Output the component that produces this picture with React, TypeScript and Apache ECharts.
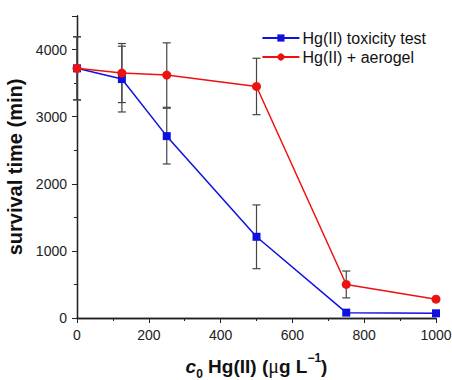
import React, { useEffect, useRef } from "react";
import * as echarts from "echarts";

const concentrations = [0, 125, 250, 500, 750, 1000];
const toxicityValues = [3720, 3560, 2710, 1210, 80, 70];
const toxicityErrors = [470, 490, 415, 475, 0, 0];
const aerogelValues = [3720, 3650, 3620, 3450, 500, 280];
const aerogelErrors = [470, 440, 480, 420, 200, 0];

const seriesNames = ["Hg(II) toxicity test", "Hg(II) + aerogel"];

const FONT = "Liberation Sans, Arial, sans-serif";
const SERIF = "Liberation Serif, Times New Roman, serif";

function pairs(vals: number[]) {
  return concentrations.map((c, i) => [c, vals[i]]);
}
function errs(vals: number[], e: number[]) {
  return concentrations
    .map((c, i) => [c, vals[i] - e[i], vals[i] + e[i]])
    .filter((d, i) => e[i] > 0);
}

function errorRender(params: any, api: any) {
  const x = api.value(0);
  const lo = api.coord([x, api.value(1)]);
  const hi = api.coord([x, api.value(2)]);
  const w = 4;
  const style = { stroke: "#444", lineWidth: 1.2 };
  return {
    type: "group",
    children: [
      { type: "line", shape: { x1: lo[0], y1: lo[1], x2: hi[0], y2: hi[1] }, style },
      { type: "line", shape: { x1: lo[0] - w, y1: lo[1], x2: lo[0] + w, y2: lo[1] }, style },
      { type: "line", shape: { x1: hi[0] - w, y1: hi[1], x2: hi[0] + w, y2: hi[1] }, style },
    ],
  };
}

export default function App() {
  const ref = useRef<HTMLDivElement>(null);
  useEffect(() => {
    if (!ref.current) return;
    const chart = echarts.init(ref.current, undefined, { renderer: "svg" });
    const axisLine = { show: true, lineStyle: { color: "#222", width: 1.3 } };
    const big = { fontFamily: FONT, fontSize: 19, fontWeight: "bold", color: "#111", verticalAlign: "bottom", lineHeight: 24 };
    chart.setOption({
      animation: false,
      grid: { left: 77, right: 16, top: 16, bottom: 62, containLabel: false, outerBoundsMode: "none" },
      legend: {
        data: seriesNames,
        orient: "vertical",
        right: 21,
        top: 25,
        itemWidth: 37,
        itemHeight: 9,
        itemGap: 3,
        textStyle: { fontFamily: FONT, fontSize: 16, color: "#111", padding: [0, 0, 0, -2] },
      },
      xAxis: [
        {
          type: "value",
          min: 0,
          max: 1000,
          interval: 200,
          axisLine,
          axisTick: { show: true, inside: false, length: 5, lineStyle: { color: "#222" } },
          minorTick: { show: true, splitNumber: 2, length: 3, lineStyle: { color: "#222" } },
          splitLine: { show: false },
          axisLabel: { fontFamily: FONT, fontSize: 14, color: "#222", margin: 10, formatter: (v: number) => String(v) },
          name: "{i|c}{sub|0}{b| Hg(II) (}{mu|μ}{b|g L}{sup|−1}{b|)}",
          nameLocation: "middle",
          nameGap: 34,
          nameTextStyle: {
            rich: {
              i: { ...big, fontStyle: "italic" },
              sub: { fontFamily: FONT, fontSize: 12, fontWeight: "bold", color: "#111", verticalAlign: "bottom", lineHeight: 18, padding: [0, 0, -4, 0] },
              b: big,
              mu: { ...big, fontFamily: SERIF, fontWeight: "normal", fontSize: 20 },
              sup: { fontFamily: FONT, fontSize: 12, fontWeight: "bold", color: "#111", verticalAlign: "top", lineHeight: 18, padding: [0, 0, 7, 0] },
            },
          },
        },
        {
          type: "value",
          position: "top",
          min: 0,
          max: 1000,
          interval: 200,
          axisLine,
          axisTick: { show: true, inside: true, length: 5, lineStyle: { color: "#222" } },
          minorTick: { show: true, splitNumber: 2, length: 3, lineStyle: { color: "#222" } },
          splitLine: { show: false },
          axisLabel: { show: false },
        },
      ],
      yAxis: [
        {
          type: "value",
          min: 0,
          max: 4500,
          interval: 1000,
          axisLine,
          axisTick: { show: true, inside: false, length: 5, lineStyle: { color: "#222" } },
          minorTick: { show: true, splitNumber: 2, length: 3, lineStyle: { color: "#222" } },
          splitLine: { show: false },
          axisLabel: {
            fontFamily: FONT,
            fontSize: 14,
            color: "#222",
            margin: 10,
            showMaxLabel: false,
            formatter: (v: number) => (v > 4000 ? "" : String(v)),
          },
          name: "survival time (min)",
          nameLocation: "middle",
          nameGap: 46,
          nameTextStyle: { fontFamily: FONT, fontSize: 20, fontWeight: "bold", color: "#111" },
        },
        {
          type: "value",
          position: "right",
          min: 0,
          max: 4500,
          interval: 1000,
          axisLine,
          axisTick: { show: true, inside: true, length: 5, lineStyle: { color: "#222" } },
          minorTick: { show: true, splitNumber: 2, length: 3, lineStyle: { color: "#222" } },
          splitLine: { show: false },
          axisLabel: { show: false },
        },
      ],
      series: [
        {
          type: "custom",
          renderItem: errorRender,
          data: errs(toxicityValues, toxicityErrors),
          z: 1,
          silent: true,
        },
        {
          type: "custom",
          renderItem: errorRender,
          data: errs(aerogelValues, aerogelErrors),
          z: 1,
          silent: true,
        },
        {
          name: seriesNames[0],
          type: "line",
          data: pairs(toxicityValues),
          symbol: "rect",
          symbolSize: 8,
          lineStyle: { color: "#1010e0", width: 1.5 },
          itemStyle: { color: "#1010e0" },
          z: 3,
        },
        {
          name: seriesNames[1],
          type: "line",
          data: pairs(aerogelValues),
          symbol: "circle",
          symbolSize: 9,
          lineStyle: { color: "#ee1111", width: 1.5 },
          itemStyle: { color: "#ee1111" },
          z: 4,
        },
      ],
    });
    return () => chart.dispose();
  }, []);
  return <div ref={ref} style={{ position: "absolute", left: 0, top: 0, width: 452, height: 380 }} />;
}
